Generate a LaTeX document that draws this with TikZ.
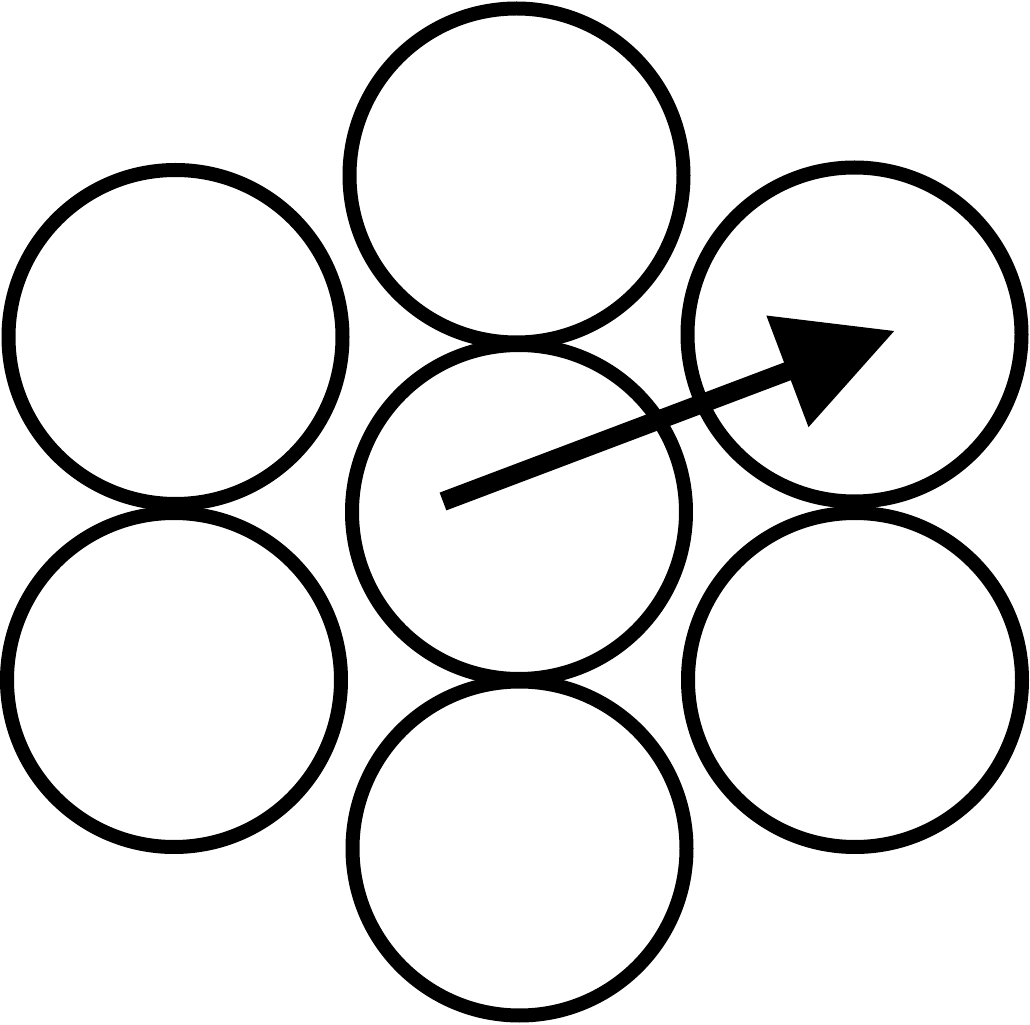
\documentclass[tikz,border=0pt]{standalone}
\usepackage{tikz}
\usetikzlibrary{arrows.meta}
\usetikzlibrary{positioning}

\begin{document}
\begin{tikzpicture}[
Strand/.style={draw=black,circle,line width=0.14cm,minimum size=3.34cm,inner sep=0pt},
Vector/.style={draw=black,line width=0.19cm,-{Triangle[length=1.15cm,width=1.14cm]}}
]
\useasboundingbox (0,0) rectangle (10.30,10.24);

% core strand and the six round it
\node[Strand] (M)  at (5.19,5.12) {};
\node[Strand] (T)  at (5.165,8.485) {};
\node[Strand] (B)  at (5.195,1.755) {};
\node[Strand] (TL) at (1.755,6.87) {};
\node[Strand] (BL) at (1.74,3.44) {};
\node[Strand] (TR) at (8.545,6.895) {};
\node[Strand] (BR) at (8.55,3.44) {};

\coordinate (Tail) at (4.43,5.225);
\coordinate (Head) at (8.95,6.933);

\draw[Vector] (Tail)--(Head);

\end{tikzpicture}
\end{document}
